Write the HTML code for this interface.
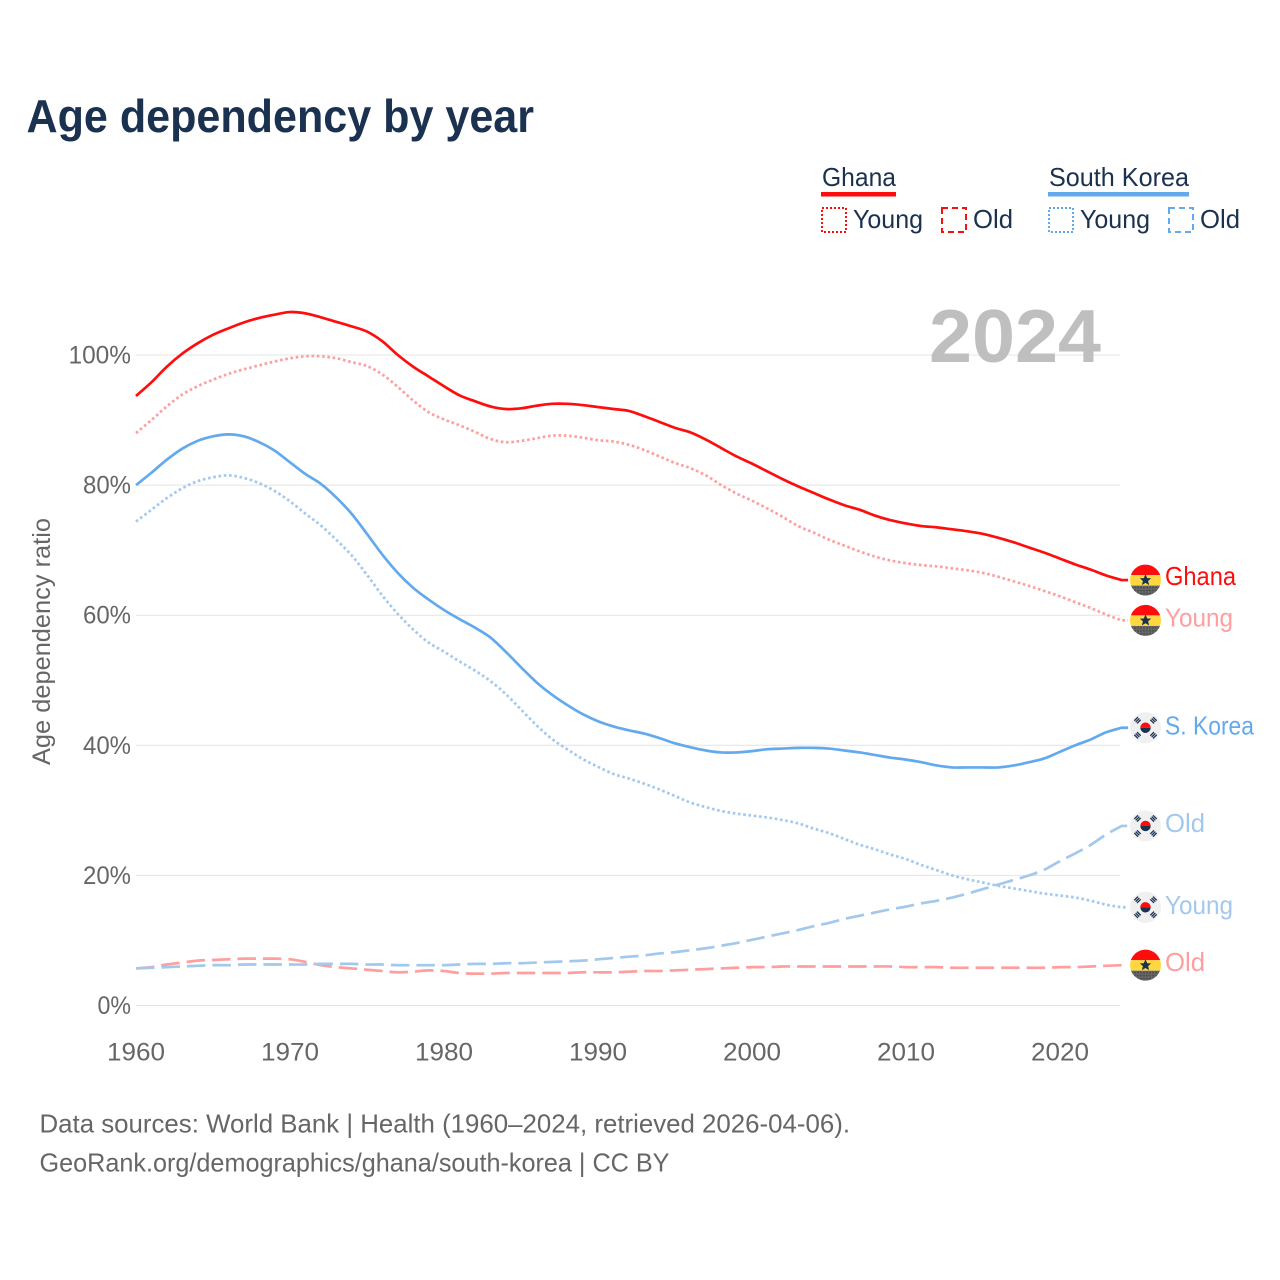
<!DOCTYPE html>
<html lang="en">
<head>
<meta charset="utf-8">
<title>Age dependency by year</title>
<style>
html,body{margin:0;padding:0;background:#fff;}
svg{display:block;font-family:"Liberation Sans",sans-serif;}
</style>
</head>
<body>
<svg id="chart" width="1280" height="1280" viewBox="0 0 1280 1280" xmlns="http://www.w3.org/2000/svg">
  <defs>
    <clipPath id="flag-clip"><circle cx="0" cy="0" r="15.5"/></clipPath>
    <pattern id="ghana-dots" width="3" height="3" patternUnits="userSpaceOnUse"><rect width="3" height="3" fill="#666"/><circle cx="1.5" cy="1.5" r="0.7" fill="#3a3a3a"/></pattern>
  </defs>
  <rect width="1280" height="1280" fill="#fff"/>
  <text x="26.5" y="132" font-size="46" font-weight="700" fill="#1a3150" textLength="507.5" lengthAdjust="spacingAndGlyphs">Age dependency by year</text>

  <g font-size="26" fill="#1a3150">
    <text x="822" y="186" textLength="74" lengthAdjust="spacingAndGlyphs">Ghana</text>
    <rect x="821" y="192" width="75" height="4.5" fill="#ff0d0d"/>
    <rect x="822" y="208" width="24" height="24" fill="none" stroke="#ff0d0d" stroke-width="2" stroke-dasharray="2 2"/>
    <text x="853" y="228" textLength="70" lengthAdjust="spacingAndGlyphs">Young</text>
    <rect x="942" y="208" width="24" height="24" fill="none" stroke="#ff0d0d" stroke-width="2" stroke-dasharray="6 4"/>
    <text x="973" y="228" textLength="40" lengthAdjust="spacingAndGlyphs">Old</text>
    <text x="1049" y="186" textLength="140" lengthAdjust="spacingAndGlyphs">South Korea</text>
    <rect x="1048" y="192" width="141" height="4.5" fill="#63a9ee"/>
    <rect x="1049" y="208" width="24" height="24" fill="none" stroke="#63a9ee" stroke-width="2" stroke-dasharray="2 2"/>
    <text x="1080" y="228" textLength="70" lengthAdjust="spacingAndGlyphs">Young</text>
    <rect x="1169" y="208" width="24" height="24" fill="none" stroke="#63a9ee" stroke-width="2" stroke-dasharray="6 4"/>
    <text x="1200" y="228" textLength="40" lengthAdjust="spacingAndGlyphs">Old</text>
  </g>

  <g id="grid"></g>
  <text x="929" y="362" font-size="75" font-weight="700" fill="#bfbfbf" textLength="172" lengthAdjust="spacingAndGlyphs">2024</text>
  <g id="y-ticks" font-size="25" fill="#666"></g>
  <g id="x-ticks" font-size="25" fill="#666"></g>
  <text transform="translate(50 765) rotate(-90)" font-size="25" fill="#666" textLength="247" lengthAdjust="spacingAndGlyphs">Age dependency ratio</text>
  <g id="lines"></g>
  <g id="ends"></g>

  <g font-size="26" fill="#666">
    <text x="39.5" y="1132.5" textLength="810.5" lengthAdjust="spacingAndGlyphs">Data sources: World Bank | Health (1960–2024, retrieved 2026-04-06).</text>
    <text x="39.5" y="1171.5" textLength="630" lengthAdjust="spacingAndGlyphs">GeoRank.org/demographics/ghana/south-korea | CC BY</text>
  </g>
</svg>
<script>
const startYear = 1960;
const xTickLabels = [1960, 1970, 1980, 1990, 2000, 2010, 2020];
const yTickLabels = [0, 20, 40, 60, 80, 100];

const ghanaTotal = [
  93.7, 95.8, 98.2, 100.2, 101.8, 103.1, 104.1, 105.0, 105.7, 106.2,
  106.6, 106.4, 105.8, 105.1, 104.4, 103.6, 102.1, 100.0, 98.2, 96.7,
  95.2, 93.8, 92.9, 92.1, 91.7, 91.8, 92.2, 92.5, 92.5, 92.3,
  92.0, 91.7, 91.4, 90.6, 89.7, 88.8, 88.1, 87.0, 85.7, 84.4,
  83.3, 82.1, 80.9, 79.8, 78.8, 77.8, 76.9, 76.2, 75.3, 74.6,
  74.1, 73.7, 73.5, 73.2, 72.9, 72.5, 71.9, 71.2, 70.4, 69.6,
  68.7, 67.8, 67.0, 66.1, 65.4
];
const ghanaYoung = [
  88.0, 90.0, 92.1, 93.9, 95.2, 96.2, 97.1, 97.8, 98.4, 99.0,
  99.5, 99.8, 99.8, 99.5, 98.9, 98.3, 97.0, 95.1, 93.0, 91.2,
  90.1, 89.2, 88.2, 87.1, 86.6, 86.8, 87.2, 87.6, 87.6, 87.3,
  86.9, 86.7, 86.2, 85.4, 84.4, 83.4, 82.6, 81.5, 80.0, 78.7,
  77.6, 76.4, 75.1, 73.7, 72.7, 71.6, 70.7, 69.8, 69.0, 68.4,
  68.0, 67.7, 67.5, 67.2, 66.9, 66.5, 65.9, 65.2, 64.5, 63.7,
  62.9, 62.0, 61.1, 60.1, 59.2
];
const ghanaOld = [
  5.7, 5.9, 6.3, 6.6, 6.9, 7.0, 7.1, 7.2, 7.2, 7.2,
  7.1, 6.7, 6.2, 5.9, 5.7, 5.5, 5.3, 5.1, 5.2, 5.4,
  5.3, 5.0, 4.9, 4.9, 5.0, 5.0, 5.0, 5.0, 5.0, 5.1,
  5.1, 5.1, 5.2, 5.3, 5.3, 5.4, 5.5, 5.6, 5.7, 5.8,
  5.9, 5.9, 6.0, 6.0, 6.0, 6.0, 6.0, 6.0, 6.0, 6.0,
  5.9, 5.9, 5.9, 5.8, 5.8, 5.8, 5.8, 5.8, 5.8, 5.8,
  5.9, 5.9, 6.0, 6.1, 6.2
];
const koreaTotal = [
  80.0, 81.9, 83.9, 85.6, 86.8, 87.5, 87.8, 87.5, 86.6, 85.3,
  83.5, 81.7, 80.2, 78.1, 75.6, 72.5, 69.3, 66.5, 64.2, 62.4,
  60.8, 59.4, 58.1, 56.6, 54.4, 52.0, 49.7, 47.8, 46.2, 44.8,
  43.7, 42.9, 42.3, 41.8, 41.1, 40.3, 39.7, 39.2, 38.9, 38.9,
  39.1, 39.4, 39.5, 39.6, 39.6, 39.5, 39.2, 38.9, 38.5, 38.1,
  37.8, 37.4, 36.9, 36.6, 36.6, 36.6, 36.6, 36.9, 37.4, 38.0,
  39.0, 40.0, 40.9, 42.0, 42.7
];
const koreaYoung = [
  74.4, 76.2, 78.0, 79.5, 80.6, 81.2, 81.5, 81.1, 80.3, 79.1,
  77.5, 75.6, 73.8, 71.6, 69.2, 66.2, 63.0, 60.2, 57.8, 55.8,
  54.4, 52.9, 51.5, 49.9, 47.9, 45.5, 43.1, 41.0, 39.4, 37.9,
  36.7, 35.6, 34.9, 34.1, 33.2, 32.2, 31.2, 30.5, 29.9, 29.5,
  29.2, 28.9, 28.5, 28.0, 27.2, 26.5, 25.6, 24.7, 24.0, 23.2,
  22.5, 21.6, 20.8, 20.0, 19.4, 18.9, 18.4, 18.0, 17.6, 17.2,
  16.9, 16.6, 16.1, 15.5, 15.1
];
const koreaOld = [
  5.7, 5.8, 5.9, 6.0, 6.1, 6.2, 6.2, 6.3, 6.3, 6.3,
  6.3, 6.3, 6.4, 6.4, 6.4, 6.3, 6.3, 6.2, 6.2, 6.2,
  6.2, 6.3, 6.4, 6.4, 6.5, 6.5, 6.6, 6.7, 6.8, 6.9,
  7.1, 7.3, 7.5, 7.7, 8.0, 8.2, 8.5, 8.8, 9.2, 9.6,
  10.1, 10.6, 11.1, 11.6, 12.2, 12.7, 13.3, 13.8, 14.3, 14.8,
  15.2, 15.7, 16.1, 16.6, 17.2, 17.9, 18.6, 19.3, 20.0, 20.9,
  22.2, 23.4, 24.7, 26.3, 27.6
];

const NS = 'http://www.w3.org/2000/svg';
function xScale(year) { return 136 + (year - 1960) * 15.4; }
function yScale(v) { return 1005.5 - v * 6.505; }
function mk(tag, parent, attrs) {
  const el = document.createElementNS(NS, tag);
  for (const k in attrs) el.setAttribute(k, attrs[k]);
  parent.appendChild(el);
  return el;
}

const gridG = document.getElementById('grid');
const yG = document.getElementById('y-ticks');
yTickLabels.forEach(function (t) {
  const line = mk('line', gridG, { x1: 136, x2: 1120, y1: yScale(t), y2: yScale(t), stroke: '#e4e4e4', 'stroke-width': 1 });
  
  
  const label = t + '%';
  const txt = mk('text', yG, { x: 131, y: yScale(t) + 8.5, 'text-anchor': 'end', textLength: 14.5 * String(t).length + 19, lengthAdjust: 'spacingAndGlyphs' });
  txt.textContent = label;
  
  
});

const xG = document.getElementById('x-ticks');
xTickLabels.forEach(function (t) {
  const txt = mk('text', xG, { x: xScale(t), y: 1060.5, 'text-anchor': 'middle', textLength: 58, lengthAdjust: 'spacingAndGlyphs' });
  txt.textContent = t;
  
  
});

function smoothPath(values) {
  const pts = values.map(function (v, i) { return [xScale(startYear + i), yScale(v)]; });
  let d = 'M' + pts[0][0].toFixed(2) + ' ' + pts[0][1].toFixed(2);
  for (let i = 0; i < pts.length - 1; i++) {
    const p0 = pts[Math.max(0, i - 1)], p1 = pts[i], p2 = pts[i + 1], p3 = pts[Math.min(pts.length - 1, i + 2)];
    const c1x = p1[0] + (p2[0] - p0[0]) / 6, c1y = p1[1] + (p2[1] - p0[1]) / 6;
    const c2x = p2[0] - (p3[0] - p1[0]) / 6, c2y = p2[1] - (p3[1] - p1[1]) / 6;
    d += 'C' + c1x.toFixed(2) + ' ' + c1y.toFixed(2) + ' ' + c2x.toFixed(2) + ' ' + c2y.toFixed(2) + ' ' + p2[0].toFixed(2) + ' ' + p2[1].toFixed(2);
  }
  const last = pts[pts.length - 1];
  d += 'L' + (last[0] + 6.5).toFixed(2) + ' ' + last[1].toFixed(2);
  return d;
}

const seriesList = [
  { key: 'ghana-total', values: ghanaTotal, color: '#ff0d0d', dash: '', flag: 'ghana', label: 'Ghana', w: 71, dy: 5 },
  { key: 'ghana-young', values: ghanaYoung, color: '#ff9e9e', dash: '2.6 2.7', flag: 'ghana', label: 'Young', w: 68, dy: 6 },
  { key: 'ghana-old', values: ghanaOld, color: '#ff9e9e', dash: '18.5 7', flag: 'ghana', label: 'Old', w: 40, dy: 6 },
  { key: 'korea-total', values: koreaTotal, color: '#63a9ee', dash: '', flag: 'korea', label: 'S. Korea', w: 89, dy: 6.8 },
  { key: 'korea-young', values: koreaYoung, color: '#a3c8ee', dash: '2.6 2.7', flag: 'korea', label: 'Young', w: 68, dy: 6.8 },
  { key: 'korea-old', values: koreaOld, color: '#a3c8ee', dash: '18.5 7', flag: 'korea', label: 'Old', w: 40, dy: 6 }
];

const linesG = document.getElementById('lines');
const endsG = document.getElementById('ends');

function drawGhanaFlag(g) {
  const c = mk('g', g, { 'clip-path': 'url(#flag-clip)' });
  mk('rect', c, { x: -16, y: -16, width: 32, height: 11, fill: '#ff0d0d' });
  mk('rect', c, { x: -16, y: -5, width: 32, height: 10.5, fill: '#ffd740' });
  mk('rect', c, { x: -16, y: 5.5, width: 32, height: 11, fill: 'url(#ghana-dots)' });
  mk('polygon', g, { points: '0,-6 1.7,-1.9 5.7,-1.8 2.6,0.9 3.6,5 0,2.8 -3.6,5 -2.6,0.9 -5.7,-1.8 -1.7,-1.9', fill: '#1a3150' });
}
function drawKoreaFlag(g) {
  const c = mk('g', g, { 'clip-path': 'url(#flag-clip)' });
  mk('rect', c, { x: -16, y: -16, width: 32, height: 32, fill: '#f0f0f0' });
  mk('path', g, { d: 'M-5.2 0A5.2 5.2 0 0 1 5.2 0Z', fill: '#ff0d0d' });
  mk('path', g, { d: 'M-5.2 0A5.2 5.2 0 0 0 5.2 0Z', fill: '#1a3150' });
  [[-8, -7.5, -45], [8, -7.5, 45], [-8, 7.5, 45], [8, 7.5, -45]].forEach(function (a) {
    const t = mk('g', g, { transform: 'translate(' + a[0] + ' ' + a[1] + ') rotate(' + a[2] + ')' });
    [-1.9, 0, 1.9].forEach(function (dy) {
      mk('rect', t, { x: -2.6, y: dy - 0.65, width: 5.2, height: 1.3, fill: '#1a3150' });
    });
  });
}

seriesList.forEach(function (s) {
  const attrs = { d: smoothPath(s.values), fill: 'none', stroke: s.color, 'stroke-width': 2.7, 'stroke-linejoin': 'round' };
  if (s.dash) attrs['stroke-dasharray'] = s.dash;
  const path = mk('path', linesG, attrs);
  
  

  const lastV = s.values[s.values.length - 1];
  const yEnd = yScale(lastV);
  const flag = mk('g', endsG, { transform: 'translate(1145.5 ' + yEnd.toFixed(2) + ')' });
  
  
  if (s.flag === 'ghana') drawGhanaFlag(flag); else drawKoreaFlag(flag);

  const txt = mk('text', endsG, { x: 1165, y: yEnd + s.dy, 'font-size': 26, fill: s.color, textLength: s.w, lengthAdjust: 'spacingAndGlyphs' });
  txt.textContent = s.label;
  
  
});
</script>
</body>
</html>
